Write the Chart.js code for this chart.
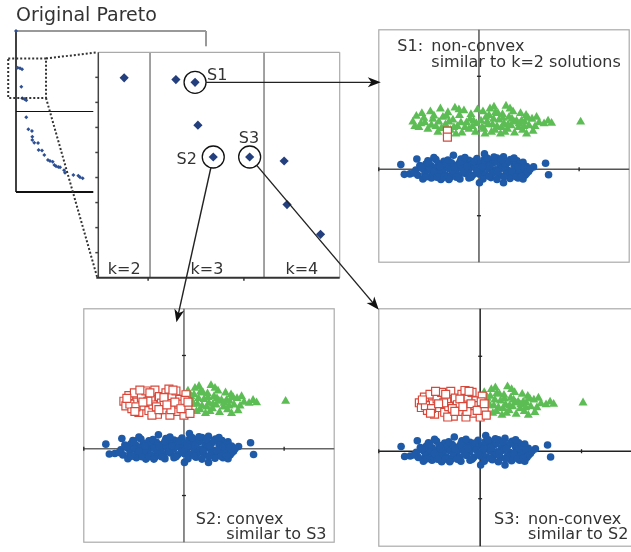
<!DOCTYPE html>
<html>
<head>
<meta charset="utf-8">
<script src="https://cdn.jsdelivr.net/npm/chart.js@4.4.0/dist/chart.umd.min.js"></script>
<style>
  body { margin: 0; background: #fff; }
  #fig { position: relative; width: 631px; height: 552px; overflow: hidden; }
  #fig canvas { position: absolute; }
</style>
</head>
<body>
<div id="fig">
  <canvas id="orig" width="202" height="173" style="left:10px;top:25px"></canvas>
  <canvas id="zoom" width="266" height="250" style="left:86px;top:40px"></canvas>
  <canvas id="p1" width="264" height="246" style="left:372px;top:23px"></canvas>
  <canvas id="p2" width="264" height="247" style="left:77px;top:302px"></canvas>
  <canvas id="p3" width="267" height="251" style="left:372px;top:302px"></canvas>
  <canvas id="overlay" width="631" height="552" style="left:0;top:0"></canvas>
</div>
<script>
// full pareto front (small plot), [x, y]
const origFront = [[0,10],[0.09,7.72],[0.21,7.68],[0.32,7.62],[0.28,6.54],[0.33,5.82],[0.44,5.78],[0.54,5.70],
  [0.54,4.64],[0.65,3.89],[0.84,3.79],[0.86,3.43],[0.86,3.23],[0.96,3.06],[1.16,3.04],[1.19,2.61],[1.37,2.57],
  [1.49,2.30],[1.68,1.99],[1.79,1.93],[1.93,1.88],[2.02,1.68],[2.11,1.60],[2.23,1.55],[2.32,1.53],[2.53,1.35],
  [2.58,1.20],[3.02,1.06],[3.28,1.01],[3.37,0.91],[3.51,0.85]]
const origRangeX = [0, 10]
const origRangeY = [0, 10]
const origMidLine = 5
const zoomBox = [-0.41, 1.58, 5.84, 8.29]   // x0, x1, y0, y1 in small plot units

// zoomed part of the front
const zoomFront = [[0.75,7.98],[1.29,7.91],[1.49,7.80],[1.52,6.09],[1.68,4.82],[2.06,4.82],[2.42,4.66],[2.45,2.92],[2.80,1.73]]
const zoomRangeX = [0.48, 3.0]
const zoomRangeY = [0, 9]
const zoomTicksX = [1, 2]
const zoomTicksY = [1, 2, 3, 4, 5, 6, 7, 8]
const kBounds = [1.02, 2.21]
const kLabels = ['k=2', 'k=3', 'k=4']
const pickedIdx = [2, 4, 5]
const pickedNames = ['S1', 'S2', 'S3']

// solution clouds
const blueCloud = [[-1.56,0.10],[-1.49,-0.11],[-1.38,-0.10],[-1.24,0.22],[1.33,0.13],[1.39,-0.12],[1.09,0.05],
  [0.01,-0.29],[-0.51,0.30],[0.11,0.33],[0.49,0.27],[0.49,-0.29],
  [-1.02,0.18],[-0.86,0.21],[-0.7,0.17],[-0.36,0.22],[-0.2,0.19],[-0.04,0.23],[0.24,0.2],[0.36,0.24],[0.63,0.21],[0.76,0.18],[0.88,0.15],
  [-1.18,0.08],[-1.06,0.11],[-0.95,0.07],[-0.81,0.12],[-0.66,0.09],[-0.55,0.14],[-0.42,0.1],[-0.28,0.13],[-0.14,0.09],
  [0.0,0.12],[0.15,0.1],[0.29,0.14],[0.42,0.08],[0.55,0.12],[0.7,0.09],[0.83,0.11],[0.95,0.06],
  [-1.26,-0.02],[-1.12,0.01],[-0.99,-0.01],[-0.86,0.02],[-0.73,-0.03],[-0.6,0.01],[-0.47,-0.02],[-0.34,0.02],[-0.21,-0.01],
  [-0.08,0.03],[0.05,-0.02],[0.19,0.01],[0.33,-0.01],[0.46,0.02],[0.59,-0.03],[0.72,0.0],[0.86,-0.02],[0.99,-0.05],
  [-1.22,-0.13],[-1.08,-0.1],[-0.94,-0.12],[-0.8,-0.09],[-0.66,-0.13],[-0.53,-0.1],[-0.4,-0.12],[-0.27,-0.09],[-0.13,-0.13],
  [0.0,-0.1],[0.13,-0.12],[0.27,-0.09],[0.4,-0.13],[0.54,-0.1],[0.67,-0.12],[0.8,-0.09],[0.92,-0.13],
  [-1.12,-0.21],[-0.95,-0.19],[-0.76,-0.22],[-0.58,-0.18],[-0.38,-0.21],[-0.2,-0.19],[0.08,-0.21],[0.24,-0.18],
  [0.36,-0.22],[0.62,-0.2],[0.78,-0.19],[0.88,-0.21],
  [-1.15,0.04],[-1.0,0.15],[-0.9,-0.05],[-0.78,0.06],[-0.7,-0.17],[-0.62,0.2],[-0.5,0.05],[-0.45,-0.17],[-0.38,0.16],
  [-0.3,-0.05],[-0.24,0.06],[-0.16,-0.17],[-0.1,0.17],[-0.04,-0.05],[0.07,0.06],[0.1,0.2],[0.2,-0.15],[0.22,0.07],
  [0.32,0.18],[0.38,-0.05],[0.5,-0.16],[0.52,0.06],[0.6,0.17],[0.66,-0.05],[0.74,-0.16],[0.78,0.05],[0.9,0.03],
  [0.95,-0.09],[1.02,0.0],[-1.3,-0.08],[-1.05,-0.16],[-0.84,-0.17],[0.16,0.24],[-0.6,-0.22],[0.3,0.26],[0.7,0.24],
  [-0.28,0.25],[0.85,-0.15],[0.45,0.2],[-0.9,0.25]]
const greenLeft = [[-1.32,1.02],[-1.25,1.14],[-1.2,0.9],[-1.14,1.2],[-1.08,1.0],[-1.02,0.86],[-0.97,1.24],[-0.92,1.08],
  [-0.86,0.92],[-0.82,0.8],[-0.77,1.3],[-0.72,1.12],[-0.67,0.96],[-0.62,1.22],[-0.57,0.84],[-0.52,1.06],[-0.48,1.32],
  [-0.43,0.92],[-0.39,1.16],[-0.34,0.78],[-0.3,1.26],[-0.25,1.0],[-0.2,0.86],[-0.16,1.18],[-0.11,1.04],[-0.07,0.8],
  [-0.03,1.28],[-1.16,0.98],[-0.9,1.15],[-0.6,1.02],[-0.36,1.0],[-0.13,0.92],[-0.75,0.88],[-0.46,0.76],
  [-1.28,0.92],[-1.1,1.1],[-0.95,0.95],[-0.8,1.02],[-0.65,1.14],[-0.5,0.9],[-0.4,1.28],[-0.28,0.9],[-0.18,1.08],[-0.05,0.98]]
const greenRight = [[0.04,1.04],[0.08,1.24],[0.1,0.86],[0.14,1.12],[0.18,0.96],[0.22,1.3],[0.25,0.8],[0.29,1.08],
  [0.33,1.22],[0.36,0.92],[0.4,1.06],[0.43,0.76],[0.47,1.18],[0.5,0.98],[0.54,1.36],[0.57,0.86],[0.6,1.12],[0.64,0.94],
  [0.68,1.24],[0.71,0.78],[0.75,1.04],[0.79,0.9],[0.83,1.2],[0.87,0.84],[0.91,1.02],[0.95,0.76],[1.0,0.94],[1.06,1.08],
  [1.12,0.92],[1.2,1.0],[1.3,0.98],[1.45,0.99],[2.03,1.02],[0.12,0.76],[0.3,1.34],[0.45,0.9],[0.62,1.3],[0.85,1.04],
  [0.2,1.16],[0.38,1.2],[0.7,1.02],[0.94,1.16],[1.08,0.82],[0.52,0.8],[0.27,0.96],
  [0.06,0.9],[0.16,1.02],[0.32,0.84],[0.48,1.1],[0.58,0.96],[0.66,1.08],[0.8,0.98],[0.9,0.92],[0.98,1.1],[1.15,1.12],[1.38,1.04]]
const redS1 = [[-0.63,0.82],[-0.63,0.69]]
const redS2 = [[-1.2,1.02],[-1.16,0.92],[-1.1,1.14],[-1.04,0.86],[-0.99,1.2],[-0.94,1.0],[-0.9,0.78],[-0.85,1.1],
  [-0.8,0.92],[-0.76,1.24],[-0.7,0.82],[-0.66,1.06],[-0.62,0.94],[-0.58,1.26],[-0.53,0.74],[-0.49,1.12],[-0.45,0.98],
  [-0.41,0.84],[-0.36,1.2],[-0.32,1.02],[-0.28,0.72],[-0.24,1.14],[-0.2,0.9],[-0.16,1.24],[-0.12,0.8],[-0.08,1.06],
  [-0.04,0.94],[0.0,0.72],[0.04,1.16],[0.08,0.86],[0.12,0.76],[-1.08,0.96],[-0.88,1.26],[-0.72,1.02],[-0.55,0.9],
  [-0.4,1.1],[-0.26,0.84],[-0.1,0.96],[0.02,1.04],[-0.64,0.72],[-0.96,0.9],[-0.3,1.28],
  [-1.14,1.08],[-0.98,0.8],[-0.82,1.0],[-0.68,1.2],[-0.5,0.84],[-0.34,0.94],[-0.18,1.0],[-0.06,0.86],[0.08,1.0],[-0.22,1.26]]
const panelRange = [-2, 3]
const panelTicksX = [-2, 2]
const panelTicksY = [2, -1]

const el = id => document.getElementById(id)
const pts = list => list.map(([x, y]) => ({ x, y }))
const FONT = '"DejaVu Sans", sans-serif'

function line(ctx, x1, y1, x2, y2, color, width, dash) {
  ctx.save()
  ctx.strokeStyle = color
  ctx.lineWidth = width
  ctx.setLineDash(dash || [])
  ctx.beginPath()
  ctx.moveTo(x1, y1)
  ctx.lineTo(x2, y2)
  ctx.stroke()
  ctx.restore()
}

function text(ctx, str, x, y, size, align) {
  ctx.save()
  ctx.font = size + 'px ' + FONT
  ctx.fillStyle = '#333'
  ctx.textAlign = align || 'left'
  ctx.fillText(str, x, y)
  ctx.restore()
}

function baseOptions(xr, yr, pad) {
  return {
    responsive: false,
    animation: false,
    events: [],
    layout: { padding: pad },
    plugins: { legend: { display: false }, tooltip: { enabled: false } },
    scales: {
      x: { type: 'linear', display: false, min: xr[0], max: xr[1] },
      y: { type: 'linear', display: false, min: yr[0], max: yr[1] }
    }
  }
}

// small plot: the whole front
const origChart = new Chart(el('orig'), {
  type: 'scatter',
  data: { datasets: [{ data: pts(origFront), pointStyle: 'rectRot', pointRadius: 2, backgroundColor: '#2d4f93', borderWidth: 0, clip: 8 }] },
  options: baseOptions(origRangeX, origRangeY, 6),
  plugins: [{
    id: 'origAxes',
    beforeDatasetsDraw(chart) {
      const { ctx, chartArea: a, scales: { y } } = chart
      line(ctx, a.left, a.top, a.right, a.top, '#999', 2)
      line(ctx, a.right, a.top, a.right, a.bottom, '#999', 2)
      line(ctx, a.left, a.top, a.left, a.bottom, '#111', 1.6)
      line(ctx, a.left, a.bottom, a.right, a.bottom, '#111', 2)
      const ym = y.getPixelForValue(origMidLine)
      line(ctx, a.left, ym, a.right, ym, '#111', 1.2)
    }
  }]
})

// zoomed front with the k groups
const zoomChart = new Chart(el('zoom'), {
  type: 'scatter',
  data: {
    datasets: [
      {
        data: pickedIdx.map(i => ({ x: zoomFront[i][0], y: zoomFront[i][1] })),
        pointStyle: 'circle', pointRadius: 11, backgroundColor: 'rgba(0,0,0,0)',
        borderColor: '#111', borderWidth: 1.3, clip: false
      },
      { data: pts(zoomFront), pointStyle: 'rectRot', pointRadius: 4.6, backgroundColor: '#243f7e', borderWidth: 0 }
    ]
  },
  options: baseOptions(zoomRangeX, zoomRangeY, { left: 10, right: 10, top: 9, bottom: 9 }),
  plugins: [{
    id: 'zoomAxes',
    beforeDatasetsDraw(chart) {
      const { ctx, chartArea: a, scales: { x, y } } = chart
      ctx.fillStyle = '#fff'
      ctx.fillRect(a.left - 5, a.top - 6, a.width + 10, a.height + 10)
      kBounds.forEach(v => {
        const px = x.getPixelForValue(v)
        line(ctx, px, a.top, px, a.bottom, '#444', 1)
      })
      line(ctx, a.left, a.top, a.right, a.top, '#aaa', 1.2)
      line(ctx, a.right, a.top, a.right, a.bottom, '#aaa', 1.2)
      line(ctx, a.left, a.top, a.left, a.bottom, '#444', 1.5)
      zoomTicksY.forEach(v => {
        const py = y.getPixelForValue(v)
        line(ctx, a.left - 3, py, a.left, py, '#444', 1.5)
      })
      line(ctx, a.left - 2, a.bottom, a.right, a.bottom, '#333', 2)
      zoomTicksX.forEach(v => {
        const px = x.getPixelForValue(v)
        line(ctx, px, a.bottom, px, a.bottom + 3, '#333', 1.5)
      })
    },
    afterDatasetsDraw(chart) {
      const { ctx, chartArea: a, scales: { x, y } } = chart
      const edges = [zoomRangeX[0], ...kBounds, zoomRangeX[1]]
      kLabels.forEach((lab, i) => {
        text(ctx, lab, x.getPixelForValue((edges[i] + edges[i + 1]) / 2), a.bottom - 4, 16, 'center')
      })
      const place = [[12, -2.6, 'left'], [-16.4, 6.6, 'right'], [-0.7, -14, 'center']]
      pickedIdx.forEach((idx, i) => {
        const px = x.getPixelForValue(zoomFront[idx][0])
        const py = y.getPixelForValue(zoomFront[idx][1])
        text(ctx, pickedNames[i], px + place[i][0], py + place[i][1], 16, place[i][2])
      })
    }
  }]
})

const redSet = list => ({ data: pts(list), pointStyle: 'rect', pointRadius: 5.6, backgroundColor: '#fff', borderColor: '#d8483b', borderWidth: 1.2 })
const greenSet = list => ({ data: pts(list), pointStyle: 'triangle', pointRadius: 5.2, backgroundColor: '#5dbd55', borderWidth: 0 })
const blueSet = list => ({ data: pts(list), pointStyle: 'circle', pointRadius: 3.8, backgroundColor: '#1e5aa7', borderWidth: 0 })

function panel(id, datasets, note) {
  return new Chart(el(id), {
    type: 'scatter',
    data: { datasets },
    options: baseOptions(panelRange, panelRange, 2),
    plugins: [{
      id: 'panelAxes',
      beforeDatasetsDraw(chart) {
        const { ctx, chartArea: a, scales: { x, y } } = chart
        ctx.save()
        ctx.strokeStyle = '#aaa'
        ctx.lineWidth = 1.2
        ctx.strokeRect(a.left, a.top, a.width, a.height)
        ctx.restore()
        const x0 = x.getPixelForValue(0)
        const y0 = y.getPixelForValue(0)
        line(ctx, x0, a.top, x0, a.bottom, note.axis, 1.5)
        line(ctx, a.left, y0, a.right, y0, note.axis, 1.5)
        panelTicksX.forEach(v => {
          const px = x.getPixelForValue(v)
          line(ctx, px, y0 - 2, px, y0 + 2, '#222', 1.3)
        })
        panelTicksY.forEach(v => {
          const py = y.getPixelForValue(v)
          line(ctx, x0 - 2, py, x0 + 2, py, '#222', 1.3)
        })
      },
      afterDatasetsDraw(chart) {
        const { ctx, chartArea: a } = chart
        text(ctx, note.lead, a.left + note.dx, a.top + note.dy, 16)
        note.lines.forEach((s, i) => text(ctx, s, a.left + note.indent, a.top + note.dy + i * 15.5, 16))
      }
    }]
  })
}

const p1 = panel('p1', [redSet(redS1), greenSet(greenLeft.concat(greenRight)), blueSet(blueCloud)],
  { lead: 'S1:', lines: ['non-convex', 'similar to k=2 solutions'], dx: 18.5, dy: 21.5, indent: 52.5, axis: '#555' })
const p2 = panel('p2', [redSet(redS2), greenSet(greenRight), blueSet(blueCloud)],
  { lead: 'S2:', lines: ['convex', 'similar to S3'], dx: 112, dy: 215, indent: 142.5, axis: '#666' })
const p3 = panel('p3', [redSet(redS2), greenSet(greenRight), blueSet(blueCloud)],
  { lead: 'S3:', lines: ['non-convex', 'similar to S2'], dx: 115.3, dy: 215, indent: 149.3, axis: '#222' })

// zoom marks and arrows across the charts
function drawOverlay() {
  const ctx = el('overlay').getContext('2d')
  const at = (chart, xv, yv) => ({
    x: chart.canvas.offsetLeft + chart.scales.x.getPixelForValue(xv),
    y: chart.canvas.offsetTop + chart.scales.y.getPixelForValue(yv)
  })
  const corner = (chart, side, top) => ({
    x: chart.canvas.offsetLeft + chart.chartArea[side],
    y: chart.canvas.offsetTop + chart.chartArea[top]
  })

  const oa = corner(origChart, 'left', 'top')
  text(ctx, 'Original Pareto', oa.x, oa.y - 10, 19)

  const dots = [2, 2]
  const b1 = at(origChart, zoomBox[0], zoomBox[3])
  const b2 = at(origChart, zoomBox[1], zoomBox[2])
  ctx.save()
  ctx.strokeStyle = '#333'
  ctx.lineWidth = 2
  ctx.setLineDash(dots)
  ctx.strokeRect(b1.x, b1.y, b2.x - b1.x, b2.y - b1.y)
  ctx.restore()
  const zt = corner(zoomChart, 'left', 'top')
  const zb = corner(zoomChart, 'left', 'bottom')
  line(ctx, b2.x, b1.y, zt.x - 1, zt.y, '#333', 2, dots)
  line(ctx, b2.x, b2.y, zb.x - 1, zb.y, '#333', 2, dots)

  function arrow(from, to, gap) {
    const dx = to.x - from.x, dy = to.y - from.y
    const len = Math.hypot(dx, dy)
    const ux = dx / len, uy = dy / len
    const head = 13, half = 5
    line(ctx, from.x + ux * gap, from.y + uy * gap, to.x - ux * 8, to.y - uy * 8, '#222', 1.4)
    const bx = to.x - ux * head, by = to.y - uy * head
    ctx.save()
    ctx.fillStyle = '#111'
    ctx.beginPath()
    ctx.moveTo(to.x, to.y)
    ctx.lineTo(bx - uy * half, by + ux * half)
    ctx.lineTo(to.x - ux * head * 0.72, to.y - uy * head * 0.72)
    ctx.lineTo(bx + uy * half, by - ux * half)
    ctx.closePath()
    ctx.fill()
    ctx.restore()
  }

  const s = pickedIdx.map(i => at(zoomChart, zoomFront[i][0], zoomFront[i][1]))
  arrow(s[0], { x: corner(p1, 'left', 'top').x + 2, y: s[0].y }, 11)
  arrow(s[1], at(p2, -0.15, 2.71), 11)
  arrow(s[2], at(p3, -2.0, 2.98), 11)
}
drawOverlay()
</script>
</body>
</html>
